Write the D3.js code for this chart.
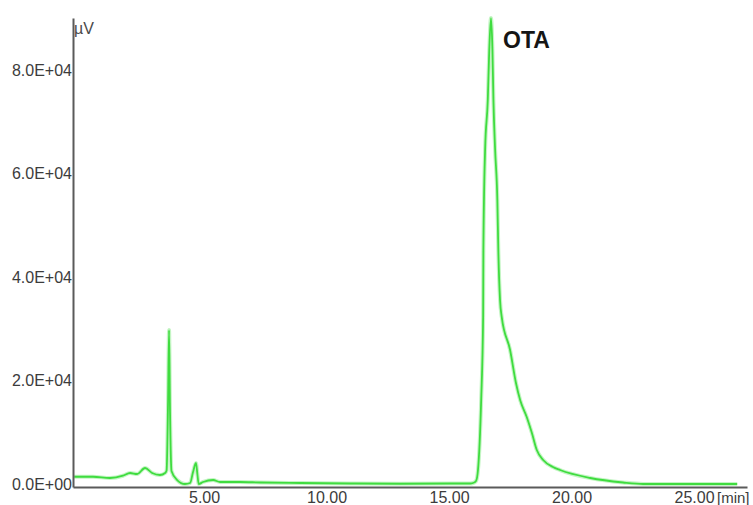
<!DOCTYPE html>
<html>
<head>
<meta charset="utf-8">
<script src="https://cdn.jsdelivr.net/npm/d3@7/dist/d3.min.js"></script>
<style>
  html, body { margin: 0; padding: 0; background: #fff; }
  svg { display: block; }
</style>
</head>
<body>
<svg id="chart" width="753" height="505"></svg>
<script>
// Retention time (min)
const times = [
  -0.30, 0.47, 1.16, 1.69, 1.98, 2.27, 2.59, 2.88, 3.20, 3.41,
  3.47, 3.53, 3.57, 3.61, 3.67, 3.90, 4.22, 4.43, 4.55, 4.67, 4.73, 4.78,
  4.96, 5.37, 5.65, 6.47, 7.29, 8.92, 10.96, 13.00, 15.04, 15.86,
  15.98, 16.10, 16.18, 16.31, 16.39, 16.40, 16.47, 16.58, 16.64, 16.71,
  16.77, 16.81, 16.88, 16.97, 17.01, 17.08, 17.15, 17.49, 17.73, 17.90,
  18.17, 18.38, 18.58, 18.84, 19.24, 19.53, 20.76, 22.10, 22.92, 24.50, 26.76
];
// Detector signal (µV)
const signal = [
  1400, 1400, 1160, 1600, 2125, 1930, 3090, 2125, 1740, 2125,
  2600, 16000, 29750, 14000, 2500, 770, 0, 190, 2320, 4060, 1740, 0,
  390, 770, 390, 390, 290, 190, 100, 50, 100, 100,
  190, 580, 2700, 16230, 32260, 45200, 64500, 74190, 83850, 90030,
  83850, 74190, 64530, 54870, 45210, 35550, 32260, 25890, 19510, 16230,
  12940, 9850, 6570, 4640, 3280, 2700, 1160, 290, 0, 0, 0
];
const xTicks = [5, 10, 15, 20, 25];
const yTicks = [0, 20000, 40000, 60000, 80000];
const yUnit = "µV";
const xUnit = "[min]";
const peakLabel = "OTA";

const svg = d3.select("#chart");
const x = d3.scaleLinear().domain([-0.35, 27.16]).range([73, 747]);
const y = d3.scaleLinear().domain([-580, 90048]).range([487, 18]);

const fontFam = "'Liberation Sans', Arial, sans-serif";

// signal line (halo + core)
const line = d3.line().x((d, i) => x(times[i])).y((d, i) => y(signal[i])).curve(d3.curveMonotoneX);
svg.append("path").datum(signal).attr("d", line)
  .attr("fill", "none").attr("stroke", "#c4f5c4").attr("stroke-width", 4).attr("stroke-linejoin", "round");
svg.append("path").datum(signal).attr("d", line)
  .attr("fill", "none").attr("stroke", "#3fdc3f").attr("stroke-width", 1.8).attr("stroke-linejoin", "round");

// x axis
const xAxis = d3.axisBottom(x).tickValues(xTicks).tickSize(0).tickSizeOuter(0).tickPadding(5)
  .tickFormat(d3.format(".2f"));
const gx = svg.append("g").attr("transform", "translate(0,487)").call(xAxis);
gx.select(".domain").attr("stroke", "#5a5a5a").attr("stroke-width", 2);
gx.selectAll("text").attr("font-family", fontFam).attr("font-size", 16).attr("fill", "#3c3c3c");

// y axis
const fmtSci = v => {
  if (v === 0) return "0.0E+00";
  const e = Math.floor(Math.log10(v));
  const m = v / Math.pow(10, e);
  return m.toFixed(1) + "E+" + String(e).padStart(2, "0");
};
const yAxis = d3.axisLeft(y).tickValues(yTicks).tickSize(0).tickSizeOuter(0).tickPadding(1).tickFormat(fmtSci);
const gy = svg.append("g").attr("transform", "translate(73,0)").call(yAxis);
gy.select(".domain").attr("stroke", "#5a5a5a").attr("stroke-width", 2);
gy.selectAll("text").attr("font-family", fontFam).attr("font-size", 16).attr("fill", "#3c3c3c");

// units
svg.append("text").attr("x", 74).attr("y", 34).text(yUnit)
  .attr("font-family", fontFam).attr("font-size", 16).attr("fill", "#4a4a4a");
svg.append("text").attr("x", 717).attr("y", 503).text(xUnit)
  .attr("font-family", fontFam).attr("font-size", 15).attr("fill", "#3c3c3c");

// peak label
svg.append("text").attr("x", 503).attr("y", 48).text(peakLabel)
  .attr("font-family", fontFam).attr("font-size", 23).attr("font-weight", "bold").attr("fill", "#151515");
</script>
</body>
</html>
